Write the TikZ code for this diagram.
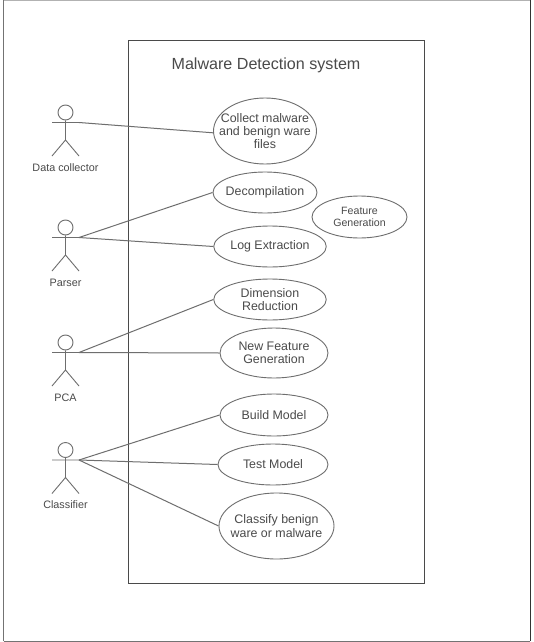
\documentclass[tikz,border=0pt]{standalone}
\usepackage{fontspec}
\setmainfont{Liberation Sans}
\usetikzlibrary{shapes.geometric}
\definecolor{ink}{HTML}{4A4A4A}
\definecolor{edge}{HTML}{6E6E6E}
\tikzset{
  usecase/.style={draw=edge,line width=0.9pt,ellipse,inner sep=-20pt,align=center,text=ink,font=\fontsize{12.4}{13.3}\selectfont},
  actorline/.style={draw=edge,line width=0.9pt},
  actorhead/.style={draw=edge,line width=0.9pt,circle,minimum size=15pt,inner sep=0pt},
  actorlabel/.style={text=ink,inner sep=0pt,font=\fontsize{10.8}{12}\selectfont},
  link/.style={draw=edge,line width=1pt},
  system/.style={draw=ink,line width=0.9pt,rectangle,inner sep=0pt,minimum width=296pt,minimum height=542.5pt}
}
\newcommand{\stickman}[5]{% name, x, head y, label, label y
  \node[actorhead] (#1head) at (#2,#3) {};
  \coordinate (#1neck) at (#2,#3+7.5);
  \coordinate (#1hip) at (#2,#3+27.5);
  \coordinate (#1lh) at (#2-13.5,#3+10);
  \coordinate (#1rh) at (#2+13.5,#3+10);
  \coordinate (#1lf) at (#2-13.5,#3+43.5);
  \coordinate (#1rf) at (#2+13.5,#3+43.5);
  \draw[actorline] (#1head) -- (#1hip) (#1lh) -- (#1rh) (#1lf) -- (#1hip) -- (#1rf);
  \node[actorlabel] (#1label) at (#2,#5) {#4};
}
\begin{document}
\begin{tikzpicture}[x=1pt,y=-1pt]
\useasboundingbox (0,0) rectangle (533,642);
\fill[white] (0,0) rectangle (533,642);
% outer frame
\draw[draw=black!30,line width=1pt] (3.5,0.4) -- (530,0.4);
\draw[draw=black!55,line width=1pt] (3.5,0.4) -- (3.5,641);
\draw[draw=black!55,line width=1pt] (3.5,641) -- (530,641);
\draw[draw=black!80,line width=1pt] (530,0.4) -- (530,641);
% system boundary
\node[system] (sys) at (276,311.75) {};
\node[text=ink,inner sep=0pt,font=\fontsize{16.1}{18}\selectfont] (title) at (266,65) {Malware Detection system};
% use cases
\node[usecase,minimum width=103pt,minimum height=66pt] (collect) at (265,131) {Collect malware\\and benign ware\\files};
\node[usecase,minimum width=104pt,minimum height=41pt] (decomp) at (265,192.5) {Decompilation};
\node[usecase,minimum width=112.5pt,minimum height=41pt] (logex) at (270,246.5) {Log Extraction};
\node[usecase,minimum width=112.5pt,minimum height=41pt] (dimred) at (270,299.5) {Dimension\\Reduction};
\node[usecase,minimum width=108pt,minimum height=50pt] (newfeat) at (274,353) {New Feature\\Generation};
\node[usecase,minimum width=108pt,minimum height=42pt] (build) at (274,415) {Build Model};
\node[usecase,minimum width=110pt,minimum height=41pt] (test) at (273,464.5) {Test Model};
\node[usecase,minimum width=115pt,minimum height=66pt] (classify) at (276.5,526) {Classify benign\\ware or malware};
\node[usecase,minimum width=95pt,minimum height=42pt,font=\fontsize{10.6}{11.7}\selectfont] (feature) at (359.5,217) {Feature\\Generation};
% actors
\stickman{dc}{65.5}{112.5}{Data collector}{167.5}
\stickman{pa}{65.5}{227.5}{Parser}{282.5}
\stickman{pc}{65.5}{342.5}{PCA}{398}
\stickman{cl}{65.5}{450}{Classifier}{505}
% associations
\draw[link] (dcrh) -- (collect.182);
\draw[link] (parh) -- (decomp.west);
\draw[link] (parh) -- (logex.west);
\draw[link] (pcrh) -- (dimred.west);
\draw[link] (pcrh) -- (newfeat.west);
\draw[link] (clrh) -- (build.west);
\draw[link] (clrh) -- (test.west);
\draw[link] (clrh) -- (classify.west);
\end{tikzpicture}
\end{document}
